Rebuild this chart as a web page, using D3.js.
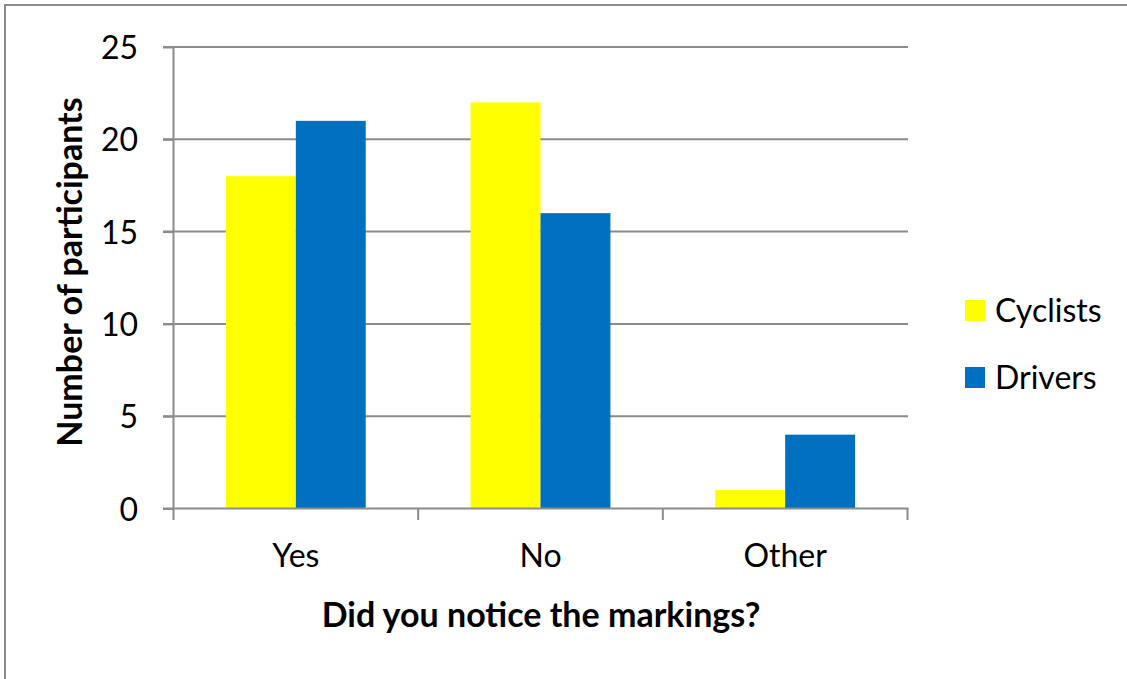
<!DOCTYPE html>
<html lang="en">
<head>
  <meta charset="UTF-8">
  <title>Did you notice the markings?</title>
  <script src="https://d3js.org/d3.v7.min.js"></script>
  <style>
    body { margin: 0; background: #fff; }
    svg text { font-family: Lato, "Open Sans", sans-serif; fill: #000; }
  </style>
</head>
<body>
  <div id="chart"></div>

  <script>
    // Data
    const categories = ['Yes', 'No', 'Other'];
    const seriesNames = ['Cyclists', 'Drivers'];
    const cyclists = [18, 22, 1];
    const drivers = [21, 16, 4];
    const yTicks = [0, 5, 10, 15, 20, 25];

    const colors = { Cyclists: '#FFFF00', Drivers: '#0070C0' };
    const gridColor = '#8c8c8c';

    const width = 1127;
    const height = 679;
    const plot = { left: 173.5, right: 907.5, top: 47, bottom: 508.5 };

    const rows = categories.map((c, i) => ({
      category: c,
      values: [
        { series: 'Cyclists', value: cyclists[i] },
        { series: 'Drivers', value: drivers[i] }
      ]
    }));

    const svg = d3.select('#chart')
      .append('svg')
      .attr('width', width)
      .attr('height', height);

    svg.append('rect')
      .attr('width', width)
      .attr('height', height)
      .attr('fill', '#fff');

    // outer frame (only top and left edges show in the picture)
    svg.append('path')
      .attr('d', `M5,${height} V5 H${width}`)
      .attr('fill', 'none')
      .attr('stroke', gridColor)
      .attr('stroke-width', 2);

    // Scales
    const x = d3.scaleBand()
      .domain(categories)
      .range([plot.left, plot.right])
      .paddingInner(0)
      .paddingOuter(0);

    const xSub = d3.scaleBand()
      .domain(seriesNames)
      .range([0, x.bandwidth()])
      .paddingInner(0)
      .paddingOuter(0.75);

    const y = d3.scaleLinear()
      .domain([0, 25])
      .range([plot.bottom, plot.top]);

    // Gridlines
    svg.append('g')
      .selectAll('line')
      .data(yTicks.filter(d => d > 0))
      .enter()
      .append('line')
      .attr('x1', plot.left - 10.5)
      .attr('x2', plot.right + 0.5)
      .attr('y1', d => y(d))
      .attr('y2', d => y(d))
      .attr('stroke', gridColor)
      .attr('stroke-width', 2);

    // Bars
    svg.append('g')
      .selectAll('g')
      .data(rows)
      .enter()
      .append('g')
      .attr('transform', d => `translate(${x(d.category)},0)`)
      .selectAll('rect')
      .data(d => d.values)
      .enter()
      .append('rect')
      .attr('x', d => xSub(d.series))
      .attr('y', d => y(d.value))
      .attr('width', xSub.bandwidth())
      .attr('height', d => y(0) - y(d.value))
      .attr('fill', d => colors[d.series]);

    // Y axis
    const yAxis = svg.append('g')
      .attr('transform', `translate(${plot.left},0)`)
      .call(d3.axisLeft(y).tickValues(yTicks).tickSize(10.5).tickPadding(25));
    yAxis.select('.domain').remove();
    yAxis.selectAll('line').attr('stroke', gridColor).attr('stroke-width', 2);
    yAxis.selectAll('text')
      .style('font-size', '32px')
      .attr('dy', '0.36em');
    yAxis.append('line')
      .attr('x1', 0).attr('x2', 0)
      .attr('y1', plot.top).attr('y2', plot.bottom + 11.5)
      .attr('stroke', gridColor)
      .attr('stroke-width', 2);

    // X axis
    const xAxis = svg.append('g')
      .attr('transform', `translate(0,${plot.bottom})`)
      .call(d3.axisBottom(x).tickSize(0));
    xAxis.select('.domain').remove();
    xAxis.selectAll('text')
      .attr('y', 58.5)
      .attr('dy', 0)
      .style('font-size', '32px');
    xAxis.append('line')
      .attr('x1', plot.left - 10.5).attr('x2', plot.right + 1)
      .attr('y1', 0).attr('y2', 0)
      .attr('stroke', gridColor)
      .attr('stroke-width', 2);
    const edges = categories.map(c => x(c) + x.bandwidth());
    xAxis.selectAll('.edge')
      .data(edges)
      .enter()
      .append('line')
      .attr('class', 'edge')
      .attr('x1', d => d).attr('x2', d => d)
      .attr('y1', 0).attr('y2', 11.5)
      .attr('stroke', gridColor)
      .attr('stroke-width', 2);

    // Axis titles
    svg.append('text')
      .attr('x', 541)
      .attr('y', 627)
      .attr('text-anchor', 'middle')
      .style('font-size', '34px')
      .style('font-weight', 'bold')
      .text('Did you notice the markings?');

    svg.append('text')
      .attr('transform', `translate(82,272) rotate(-90)`)
      .attr('text-anchor', 'middle')
      .style('font-size', '34px')
      .style('font-weight', 'bold')
      .text('Number of participants');

    // Legend
    const legend = svg.append('g')
      .selectAll('g')
      .data(seriesNames)
      .enter()
      .append('g')
      .attr('transform', (d, i) => `translate(965,${300 + i * 67})`);
    legend.append('rect')
      .attr('width', 20)
      .attr('height', 21)
      .attr('fill', d => colors[d]);
    legend.append('text')
      .attr('x', 30)
      .attr('y', 21.5)
      .style('font-size', '32px')
      .text(d => d);
  </script>
</body>
</html>
